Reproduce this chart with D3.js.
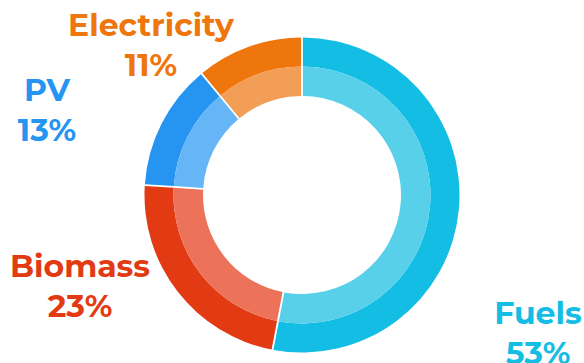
<!DOCTYPE html>
<html>
<head>
<meta charset="utf-8">
<script src="https://cdn.jsdelivr.net/npm/d3@7"></script>
<style>
  html, body { margin: 0; padding: 0; background: #fff; }
  svg text { font-family: Montserrat, 'DejaVu Sans', sans-serif; font-weight: 700; }
</style>
</head>
<body>
<svg id="chart" width="584" height="363"></svg>
<script>
// shares in percent, clockwise from 12 o'clock
const categories = ['Fuels', 'Biomass', 'PV', 'Electricity'];
const shares = [53, 23, 13, 11];
const darkColors = ['#13bde3', '#e23a12', '#2595f1', '#ee760d'];
const lightColors = ['#58d0ea', '#ec735a', '#66b6f7', '#f39e56'];

// where each label block is centred (x, baseline of first line)
const labelPos = {
  Fuels: [538, 324],
  Biomass: [80, 277],
  PV: [47, 101],
  Electricity: [151, 36]
};

const width = 584, height = 363;
const cx = 302, cy = 195;
const rOuter = 157.5, rMid = 128.5, rInner = 99;

const data = categories.map((c, i) => ({ name: c, value: shares[i], i: i }));

const svg = d3.select('#chart');
const g = svg.append('g')
  .attr('transform', 'translate(' + cx + ',' + cy + ')');

const pie = d3.pie()
  .sort(null)
  .value(function(d) { return d.value; });

const arcs = pie(data);

const outerArc = d3.arc()
  .innerRadius(rMid)
  .outerRadius(rOuter)
  .padRadius(rOuter)
  .padAngle(1.8 / rOuter);

const innerArc = d3.arc()
  .innerRadius(rInner)
  .outerRadius(rMid)
  .padRadius(rOuter)
  .padAngle(1.8 / rOuter);

g.selectAll('.outer')
  .data(arcs)
  .enter().append('path')
  .attr('class', 'outer')
  .attr('d', outerArc)
  .attr('fill', function(d) { return darkColors[d.data.i]; });

g.selectAll('.inner')
  .data(arcs)
  .enter().append('path')
  .attr('class', 'inner')
  .attr('d', innerArc)
  .attr('fill', function(d) { return lightColors[d.data.i]; });

const labels = svg.selectAll('.label')
  .data(data)
  .enter().append('text')
  .attr('class', 'label')
  .attr('text-anchor', 'middle')
  .attr('font-size', 31.5)
  .attr('fill', function(d) { return darkColors[d.i]; })
  .attr('x', function(d) { return labelPos[d.name][0]; })
  .attr('y', function(d) { return labelPos[d.name][1]; });

labels.append('tspan')
  .attr('x', function(d) { return labelPos[d.name][0]; })
  .text(function(d) { return d.name; });

labels.append('tspan')
  .attr('x', function(d) { return labelPos[d.name][0]; })
  .attr('dy', 39.5)
  .text(function(d) { return d3.format('d')(d.value) + '%'; });
</script>
</body>
</html>
